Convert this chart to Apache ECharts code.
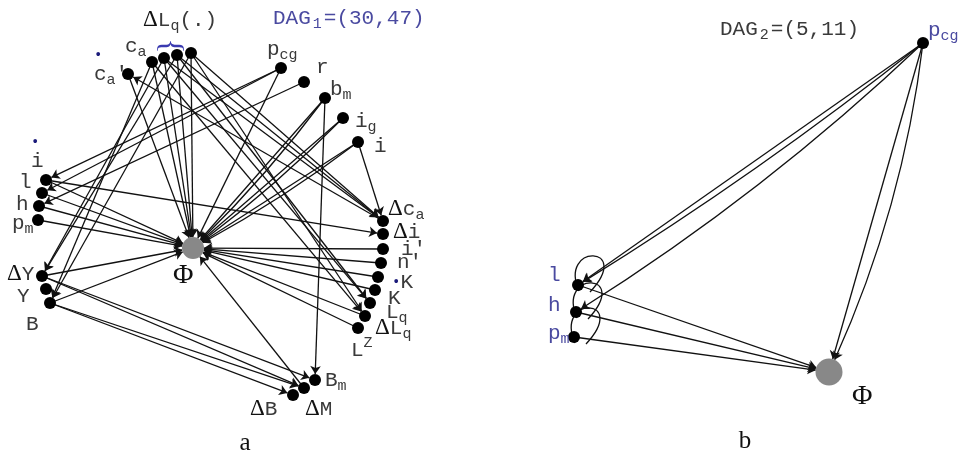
<!DOCTYPE html>
<html>
<head>
<meta charset="utf-8">
<script src="https://cdn.jsdelivr.net/npm/echarts@6/dist/echarts.min.js"></script>
<style>
html, body { margin: 0; padding: 0; background: #fff; }
#main { width: 963px; height: 457px; }
</style>
</head>
<body>
<div id="main"></div>
<script>
// DAG 1 (panel a): 30 nodes, 47 edges
var leftNames = ['ca', 'lq1', 'lq2', 'lq3', 'cap', 'pcg', 'r', 'bm', 'ig', 'i',
    'idot', 'l', 'h', 'pm', 'phi', 'dY', 'Y', 'B',
    'dca', 'di', 'ip', 'np', 'Kdot', 'K', 'Lq', 'dLq', 'LZ', 'Bm', 'dM', 'dB'];
var leftX = [152, 164, 177, 191, 128, 281, 304, 325, 343, 358,
    46, 42, 39, 38, 193, 42, 46, 50,
    383, 383, 383, 381, 378, 375, 370, 365, 358, 315, 304, 293];
var leftY = [62, 58, 55, 53, 74, 68, 82, 98, 118, 142,
    180, 193, 206, 220, 248, 276, 289, 303,
    221, 234, 249, 263, 277, 290, 303, 316, 328, 380, 388, 395];
var leftEdges = [
    ['ca', 'phi'], ['lq1', 'phi'], ['lq2', 'phi'], ['lq3', 'phi'], ['cap', 'phi'],
    ['pcg', 'phi'], ['bm', 'phi'], ['ig', 'phi'], ['i', 'phi'], ['idot', 'phi'],
    ['l', 'phi'], ['h', 'phi'], ['pm', 'phi'], ['dY', 'phi'], ['B', 'phi'],
    ['ip', 'phi'], ['np', 'phi'], ['Kdot', 'phi'], ['K', 'phi'], ['LZ', 'phi'],
    ['dM', 'phi'],
    ['pcg', 'idot'], ['r', 'h'], ['pcg', 'l'], ['dca', 'cap'], ['lq1', 'dca'],
    ['lq2', 'dca'], ['i', 'dca'], ['idot', 'di'], ['lq1', 'Lq'], ['lq2', 'Lq'],
    ['lq3', 'dLq'], ['ca', 'dLq'], ['lq1', 'dY'], ['lq2', 'dY'], ['ca', 'B'],
    ['bm', 'Bm'], ['dY', 'dM'], ['dY', 'Bm'], ['B', 'dB'], ['B', 'dM'],
    ['bm', 'phi'], ['ig', 'phi'], ['i', 'phi'], ['dLq', 'phi'], ['lq3', 'dca'],
    ['lq3', 'B']
];

// DAG 2 (panel b): 5 nodes, 11 edges (3 self loops)
var rightNames = ['pcg', 'l', 'h', 'pm', 'phi'];
var rightX = [923, 578, 576, 574, 829];
var rightY = [43, 285, 312, 337, 372];
var rightEdges = [
    ['pcg', 'l'], ['pcg', 'l'], ['pcg', 'h'], ['pcg', 'phi'], ['pcg', 'phi'],
    ['l', 'phi'], ['h', 'phi'], ['pm', 'phi'],
    ['l', 'l'], ['h', 'h'], ['pm', 'pm']
];
// bend of each edge in panel b (same order as rightEdges)
var rightBend = [0, 0.03, 0.05, 0, 0.08, 0, 0, 0, 0, 0, 0];

// node label texts
var leftText = {
    ca: '{t|c}{s|a}', cap: '{dot|•}\n{t|c}{s|a}{t|\'}', pcg: '{t|p}{s|cg}', r: '{t|r}',
    bm: '{t|b}{s|m}', ig: '{t|i}{s|g}', i: '{t|i}', idot: '{dot|•}\n{t|i}', l: '{t|l}',
    h: '{t|h}', pm: '{t|p}{s|m}', phi: '{F|Φ}', dY: '{g|Δ}{t|Y}', Y: '{t|Y}', B: '{t|B}',
    dca: '{g|Δ}{t|c}{s|a}', di: '{g|Δ}{t|i}', ip: '{t|i\'}', np: '{t|n\'}',
    Kdot: '{dot|•}{t|K}', K: '{t|K}', Lq: '{t|L}{s|q}', dLq: '{g|Δ}{t|L}{s|q}',
    LZ: '{t|L}{u|Z}', Bm: '{t|B}{s|m}', dM: '{g|Δ}{t|M}', dB: '{g|Δ}{t|B}'
};
var rightText = {
    pcg: '{tb|p}{sb|cg}', l: '{tb|l}', h: '{tb|h}', pm: '{tb|p}{sb|m}', phi: '{F|Φ}'
};

// label placement (left edge / vertical middle, relative to node)
var leftOffset = {
    ca: [-27, -16], cap: [-34, -5], pcg: [-14, -19], r: [12, -15], bm: [5, -9],
    ig: [12, 3], i: [16, 4], idot: [-15, -24], l: [-23, -11], h: [-23, -2],
    pm: [-26, 3], phi: [-20, 28], dY: [-35, -2], Y: [-29, 7], B: [-24, 21],
    dca: [5, -12], di: [10, -2], ip: [18, 0], np: [16, -1], Kdot: [14, 5],
    K: [13, 8], Lq: [16, 9], dLq: [10, 12], LZ: [-7, 22], Bm: [10, 0],
    dM: [1, 21], dB: [-43, 14]
};
var rightOffset = {
    pcg: [5, -13], l: [-30, -10], h: [-28, -7], pm: [-26, -4], phi: [23, 25]
};

var mono = 'Liberation Mono';
var serif = 'Liberation Serif';
var grey = '#3a3a3a';
var blue = '#4a4aa0';
var rich = {
    t: {fontFamily: mono, fontSize: 21, lineHeight: 28, color: grey},
    s: {fontFamily: mono, fontSize: 15, lineHeight: 10, verticalAlign: 'bottom', color: grey},
    u: {fontFamily: mono, fontSize: 15, lineHeight: 10, verticalAlign: 'top', color: grey},
    g: {fontFamily: serif, fontSize: 23, lineHeight: 28, color: '#111'},
    dot: {fontFamily: mono, fontSize: 14, lineHeight: 10, color: '#1a1a7a'},
    tb: {fontFamily: mono, fontSize: 21, lineHeight: 28, color: blue},
    sb: {fontFamily: mono, fontSize: 15, lineHeight: 10, verticalAlign: 'bottom', color: blue},
    F: {fontFamily: serif, fontSize: 28, lineHeight: 30, color: '#111'}
};
// same styles for graphic texts (zrender wants fill)
var grich = {};
Object.keys(rich).forEach(function (k) {
    grich[k] = Object.assign({}, rich[k], {fill: rich[k].color});
});
grich.sp = Object.assign({}, grich.s, {padding: [0, 2, 0, 2]});
grich.spb = Object.assign({}, grich.sb, {padding: [0, 2, 0, 2]});

function buildNodes(names, xs, ys, texts, offsets, phiSize) {
    var nodes = [];
    for (var i = 0; i < names.length; i++) {
        var n = names[i];
        var isPhi = n === 'phi';
        nodes.push({
            name: n,
            value: [xs[i], ys[i]],
            symbolSize: isPhi ? phiSize : 12,
            itemStyle: {color: isPhi ? '#888' : '#000'},
            label: {
                show: !!texts[n],
                position: 'inside',
                align: 'left',
                verticalAlign: 'middle',
                offset: offsets[n] || [0, 0],
                formatter: texts[n] || '',
                rich: rich
            }
        });
    }
    return nodes;
}

function buildLinks(edges, bend) {
    var links = [];
    var seen = {};
    for (var i = 0; i < edges.length; i++) {
        if (edges[i][0] === edges[i][1]) continue; // loops drawn by the custom series
        var key = edges[i][0] + '>' + edges[i][1];
        var curv = bend ? bend[i] : (seen[key] ? 0.04 : 0);
        seen[key] = true;
        links.push({source: edges[i][0], target: edges[i][1], lineStyle: {curveness: curv}});
    }
    return links;
}

// self loops of panel b, positioned at their node
var loopData = [];
rightEdges.forEach(function (e) {
    if (e[0] === e[1]) {
        var k = rightNames.indexOf(e[0]);
        loopData.push([rightX[k], rightY[k]]);
    }
});

var graphBase = {
    type: 'graph',
    coordinateSystem: 'cartesian2d',
    edgeSymbol: ['none', 'arrow'],
    edgeSymbolSize: [0, 8],
    lineStyle: {color: '#111', width: 1.3, opacity: 1},
    emphasis: {disabled: true},
    silent: true,
    z: 3
};

var option = {
    animation: false,
    backgroundColor: '#fff',
    grid: {left: 0, right: 0, top: 0, bottom: 0},
    xAxis: {type: 'value', min: 0, max: 963, show: false},
    yAxis: {type: 'value', min: 0, max: 457, inverse: true, show: false},
    graphic: [
        {type: 'text', x: 143, y: 20, style: {text: '{g|Δ}{t|L}{s|q}{t|(.)}', rich: grich, verticalAlign: 'middle'}},
        {type: 'text', x: 172, y: 46, rotation: Math.PI / 2, style: {text: '}', font: '32px ' + serif, fill: '#3a3ab0', align: 'center', verticalAlign: 'middle'}},
        {type: 'text', x: 273, y: 18, style: {text: '{tb|DAG}{spb|1}{tb|=(30,47)}', rich: grich, verticalAlign: 'middle'}},
        {type: 'text', x: 720, y: 29, style: {text: '{t|DAG}{sp|2}{t|=(5,11)}', rich: grich, verticalAlign: 'middle'}},
        {type: 'text', x: 245, y: 443, style: {text: 'a', font: '25px ' + serif, fill: '#111', align: 'center', verticalAlign: 'middle'}},
        {type: 'text', x: 745, y: 441, style: {text: 'b', font: '25px ' + serif, fill: '#111', align: 'center', verticalAlign: 'middle'}}
    ],
    series: [
        Object.assign({}, graphBase, {
            data: buildNodes(leftNames, leftX, leftY, leftText, leftOffset, 22),
            links: buildLinks(leftEdges)
        }),
        Object.assign({}, graphBase, {
            data: buildNodes(rightNames, rightX, rightY, rightText, rightOffset, 27),
            links: buildLinks(rightEdges, rightBend)
        }),
        {
            type: 'custom',
            coordinateSystem: 'cartesian2d',
            silent: true,
            z: 2,
            data: loopData,
            renderItem: function (params, api) {
                var p = api.coord([api.value(0), api.value(1)]);
                return {
                    type: 'bezierCurve',
                    shape: {
                        x1: p[0] + 1, y1: p[1] + 6,
                        cpx1: p[0] - 20, cpy1: p[1] - 42,
                        cpx2: p[0] + 56, cpy2: p[1] - 40,
                        x2: p[0] + 12, y2: p[1] + 7
                    },
                    style: {stroke: '#111', lineWidth: 1.3, fill: 'none'}
                };
            }
        }
    ]
};

var chart = echarts.init(document.getElementById('main'));
chart.setOption(option);
</script>
</body>
</html>
